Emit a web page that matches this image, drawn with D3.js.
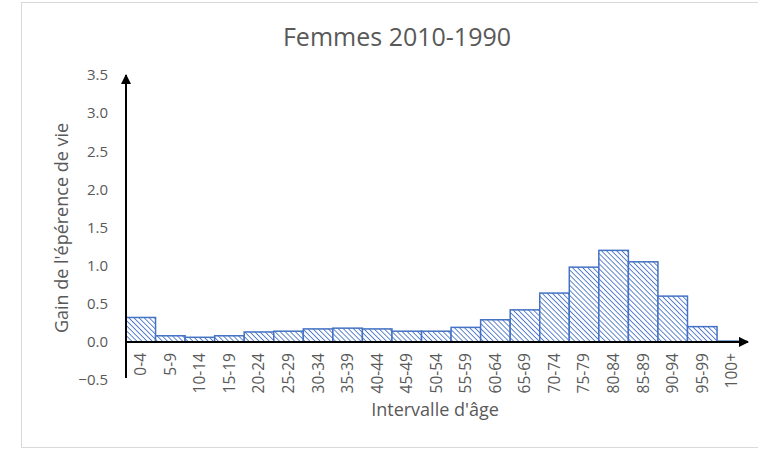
<!DOCTYPE html>
<html>
<head>
<meta charset="utf-8">
<script src="https://cdn.jsdelivr.net/npm/d3@7"></script>
<style>
  body { margin: 0; background: #fff; }
  text { font-family: "Open Sans", "Noto Sans", sans-serif; fill: #595959; }
</style>
</head>
<body>
<div id="chart"></div>
<script>
const ageGroups = ["0-4", "5-9", "10-14", "15-19", "20-24", "25-29", "30-34", "35-39", "40-44", "45-49",
    "50-54", "55-59", "60-64", "65-69", "70-74", "75-79", "80-84", "85-89", "90-94", "95-99", "100+"];
const gains = [0.32, 0.08, 0.06, 0.08, 0.13, 0.14, 0.17, 0.18, 0.17, 0.14,
    0.14, 0.19, 0.29, 0.42, 0.64, 0.98, 1.20, 1.05, 0.60, 0.20, 0.01];
const yTicks = [-0.5, 0, 0.5, 1, 1.5, 2, 2.5, 3, 3.5];

const width = 758, height = 449;
const svg = d3.select("#chart").append("svg")
    .attr("width", width)
    .attr("height", height);

// frame of the chart area
svg.append("rect")
    .attr("x", 21.5).attr("y", 2.5)
    .attr("width", 760).attr("height", 445)
    .attr("fill", "none")
    .attr("stroke", "#d9d9d9");

const defs = svg.append("defs");
const pat = defs.append("pattern")
    .attr("id", "hatch")
    .attr("patternUnits", "userSpaceOnUse")
    .attr("width", 3.6).attr("height", 3.6)
    .attr("patternTransform", "rotate(45)");
pat.append("rect").attr("width", 3.6).attr("height", 3.6).attr("fill", "#fff");
pat.append("line")
    .attr("x1", 0).attr("y1", 0).attr("x2", 3.6).attr("y2", 0)
    .attr("stroke", "#4472c4").attr("stroke-width", 1.7);

const marker = defs.append("marker")
    .attr("id", "arrow")
    .attr("viewBox", "0 0 10 10")
    .attr("refX", 9).attr("refY", 5)
    .attr("markerWidth", 5).attr("markerHeight", 5)
    .attr("markerUnits", "strokeWidth")
    .attr("orient", "auto");
marker.append("path").attr("d", "M0,0 L10,5 L0,10 z").attr("fill", "#000");

const x = d3.scaleBand()
    .domain(ageGroups)
    .range([126, 746.6])
    .padding(0);

const y = d3.scaleLinear()
    .domain([-0.5, 3.5])
    .range([380, 75]);

// title
svg.append("text")
    .attr("x", 397).attr("y", 46)
    .attr("text-anchor", "middle")
    .style("font-size", "25px")
    .text("Femmes 2010-1990");

// y tick labels
svg.append("g").selectAll("text")
    .data(yTicks)
    .join("text")
    .attr("x", 108)
    .attr("y", d => y(d))
    .attr("dy", "0.35em")
    .attr("text-anchor", "end")
    .style("font-size", "15px")
    .text(d => d3.format(".1f")(d));

// bars
svg.append("g").selectAll("rect")
    .data(gains)
    .join("rect")
    .attr("x", (d, i) => x(ageGroups[i]))
    .attr("y", d => y(d))
    .attr("width", x.bandwidth())
    .attr("height", d => y(0) - y(d))
    .attr("fill", "url(#hatch)")
    .attr("stroke", "#4472c4")
    .attr("stroke-width", 1.5);

// axes
svg.append("line")
    .attr("x1", 126).attr("y1", 378)
    .attr("x2", 126).attr("y2", 75)
    .attr("stroke", "#000").attr("stroke-width", 2)
    .attr("marker-end", "url(#arrow)");

svg.append("line")
    .attr("x1", 126).attr("y1", y(0))
    .attr("x2", 748).attr("y2", y(0))
    .attr("stroke", "#000").attr("stroke-width", 2)
    .attr("marker-end", "url(#arrow)");

// x tick labels
svg.append("g").selectAll("text")
    .data(ageGroups)
    .join("text")
    .attr("transform", d => `translate(${x(d) + x.bandwidth() / 2},353) rotate(-90)`)
    .attr("dy", "0.35em")
    .attr("text-anchor", "end")
    .style("font-size", "15.5px")
    .text(d => d);

// axis titles
svg.append("text")
    .attr("x", 435).attr("y", 416)
    .attr("text-anchor", "middle")
    .style("font-size", "18px")
    .text("Intervalle d'âge");

svg.append("text")
    .attr("transform", "translate(68,228) rotate(-90)")
    .attr("text-anchor", "middle")
    .style("font-size", "18px")
    .text("Gain de l'épérence de vie");
</script>
</body>
</html>
